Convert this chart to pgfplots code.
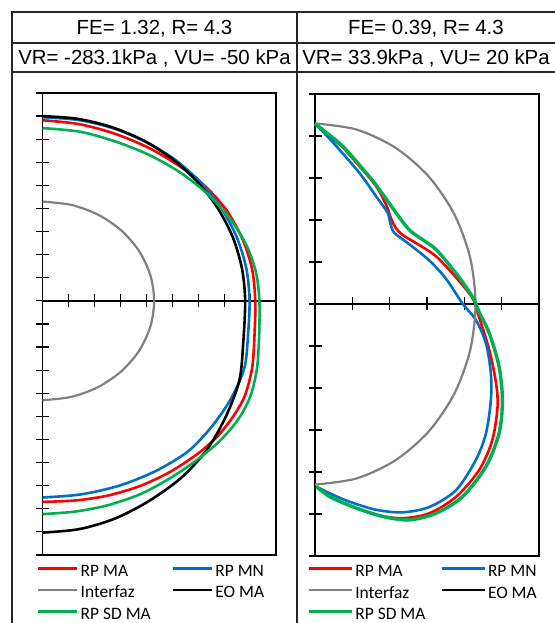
\documentclass[border=0pt]{standalone}
\usepackage{fontspec}
\setmainfont{Liberation Sans}
\newfontfamily\legfont{Carlito}
\usepackage{pgfplots}
\pgfplotsset{compat=1.18}
\definecolor{cRed}{RGB}{255,0,0}
\definecolor{cBlue}{RGB}{0,112,192}
\definecolor{cGreen}{RGB}{0,176,80}
\definecolor{cGray}{RGB}{128,128,128}
\pgfplotsset{
  panel/.style={
    scale only axis,
    anchor=south west,
    axis x line=middle,
    axis y line=left,
    axis line style={-, line width=1.4bp, black},
    every inner x axis line/.append style={-},
    every outer y axis line/.append style={-},
    tick align=center,
    major tick length=13bp,
    tick style={line width=1.2bp, black},
    xticklabels={,,}, yticklabels={,,},
    clip=false,
    legend columns=2,
    legend cell align=left,
    legend style={draw=none, fill=none, inner sep=0pt, outer sep=0pt,
      font=\legfont\fontsize{17.5}{20}\selectfont,
      nodes={inner xsep=2bp, inner ysep=2.75bp, text height=12bp, text depth=4bp}},
  },
  curve/.style={smooth, line width=2.6bp},
}
\begin{document}
\begin{tikzpicture}
\path[use as bounding box] (0bp,0bp) rectangle (555bp,623bp);
% table frame
\begin{scope}[line width=1.3bp, black!85]
\draw (12bp,0bp) -- (12bp,611bp) -- (560bp,611bp);
\draw (12bp,580bp) -- (560bp,580bp);
\draw (12bp,551bp) -- (560bp,551bp);
\draw (297bp,0bp) -- (297bp,611bp);
\end{scope}
\begin{scope}[font=\fontsize{20.5}{23}\selectfont]
\node[anchor=base] at (154.5bp,588.5bp) {FE= 1.32, R= 4.3};
\node[anchor=base] at (154.5bp,558.5bp) {VR= -283.1kPa , VU= -50 kPa};
\node[anchor=base] at (426bp,588.5bp) {FE= 0.39, R= 4.3};
\node[anchor=base] at (426bp,558.5bp) {VR= 33.9kPa , VU= 20 kPa};
\end{scope}

% ---------------- left panel ----------------
\begin{axis}[panel,
  at={(42.7bp,68bp)}, width=233.3bp, height=462bp,
  xmin=0, xmax=9, ymin=-11, ymax=9,
  xtick={1,...,8}, ytick={-11,...,9},
  legend image code/.code={\draw[#1] (0bp,4bp) -- (39bp,4bp);},
  legend style={at={(axis description cs:-0.024,-0.0146)}, anchor=north west,
    /tikz/column 2/.style={column sep=19bp}},
]
\draw[line width=1.4bp] (rel axis cs:0,0) rectangle (rel axis cs:1,1);
\addplot[curve, cRed] table {
0 7.82
1.42 7.65
2.80 7.23
4.10 6.62
5.27 5.84
6.28 4.95
7.10 3.91
7.71 2.67
8.08 1.36
8.2 0
8.17 -1.5
8.08 -2.89
7.8 -4.1
7.35 -5.0
6.75 -5.85
6.0 -6.6
4.92 -7.4
3.76 -8.01
2.5 -8.43
1.25 -8.64
0 -8.70
};
\addlegendentry{RP MA}
\addplot[curve, cBlue] table {
0 7.95
1.39 7.83
2.73 7.47
3.99 6.88
5.13 6.09
6.11 5.11
6.91 3.98
7.50 2.72
7.86 1.38
7.98 0
7.92 -1.48
7.78 -2.91
7.25 -4.26
6.5 -5.47
5.6 -6.52
4.35 -7.37
2.95 -8.0
1.45 -8.38
0 -8.51
};
\addlegendentry{RP MN}
\addplot[smooth, line width=2.2bp, cGray, data cs=polar] coordinates {
(90,4.3) (75,4.3) (60,4.3) (45,4.3) (30,4.3) (15,4.3) (0,4.3)
(-15,4.3) (-30,4.3) (-45,4.3) (-60,4.3) (-75,4.3) (-90,4.3)};
\addlegendentry{Interfaz}
\addplot[curve, black] table {
0 8.0
1.36 7.88
2.67 7.52
3.91 6.93
5.02 6.13
5.98 5.14
6.76 4.0
7.34 2.74
7.69 1.39
7.81 0
7.74 -1.74
7.59 -3.43
7.06 -5.02
6.33 -6.45
5.32 -7.68
4.06 -8.69
2.77 -9.43
1.41 -9.88
0 -10.03
};
\addlegendentry{EO MA}
\addplot[curve, cGreen] table {
0 7.48
1.45 7.32
2.86 6.88
4.18 6.28
5.37 5.51
6.40 4.59
7.24 3.54
7.86 2.41
8.23 1.23
8.36 0
8.35 -1.5
8.27 -2.89
8.05 -4.0
7.7 -4.85
7.25 -5.55
6.65 -6.25
5.69 -7.1
4.8 -7.75
3.76 -8.37
2.5 -8.85
1.25 -9.12
0 -9.23
};
\addlegendentry{RP SD MA}
\end{axis}

% ---------------- right panel ----------------
\begin{axis}[panel,
  at={(315bp,67bp)}, width=224bp, height=462bp,
  xmin=0, xmax=6, ymin=-6, ymax=5,
  xtick={1,...,5}, ytick={-6,...,5},
  legend image code/.code={\draw[#1] (0bp,4bp) -- (43bp,4bp);},
  legend style={at={(axis description cs:-0.036,-0.0125)}, anchor=north west,
    /tikz/column 2/.style={column sep=13bp}},
]
\draw[line width=1.4bp] (rel axis cs:0,0) rectangle (rel axis cs:1,1);
\addplot[curve, cRed] table {
0 4.29
0.35 4.03
0.75 3.72
1.2 3.27
1.64 2.8
1.91 2.35
2.03 2.05
2.17 1.8
2.37 1.63
2.8 1.4
3.25 1.13
3.78 0.63
4.22 0.14
4.36 -0.22
4.67 -1.1
4.85 -1.89
4.89 -2.45
4.75 -3.24
4.4 -3.95
3.78 -4.59
3.07 -4.98
2.35 -5.1
1.64 -5.02
0.93 -4.8
0.4 -4.58
0.04 -4.35
};
\addlegendentry{RP MA}
\addplot[curve, cBlue] table {
0 4.29
0.3 4.02
0.58 3.75
1.2 3.11
1.64 2.56
1.94 2.18
2.02 1.92
2.12 1.7
2.53 1.42
3.07 1.03
3.51 0.6
3.96 0
4.31 -0.38
4.58 -0.94
4.71 -1.65
4.71 -2.29
4.58 -3.08
4.31 -3.71
3.78 -4.43
3.07 -4.83
2.35 -4.96
1.64 -4.9
0.93 -4.71
0.4 -4.51
0.04 -4.35
};
\addlegendentry{RP MN}
\addplot[smooth, line width=2.2bp, cGray, data cs=polar] coordinates {
(90,4.3) (75,4.3) (60,4.3) (45,4.3) (30,4.3) (15,4.3) (0,4.3)
(-15,4.3) (-30,4.3) (-45,4.3) (-60,4.3) (-75,4.3) (-90,4.3)};
\addlegendentry{Interfaz}
\addlegendimage{curve, black}
\addlegendentry{EO MA}
\addplot[curve, cGreen, line width=3.4bp] table {
0 4.29
0.35 4.05
0.75 3.75
1.2 3.3
1.64 2.83
2.18 2.16
2.53 1.76
2.9 1.52
3.25 1.29
3.78 0.73
4.22 0.17
4.4 -0.2
4.67 -0.7
4.93 -1.49
5.02 -2.29
4.93 -3.08
4.58 -3.87
3.95 -4.59
3.25 -4.98
2.53 -5.14
1.82 -5.06
1.02 -4.83
0.4 -4.59
0.04 -4.35
};
\addlegendentry{RP SD MA}
\end{axis}
\end{tikzpicture}
\end{document}
